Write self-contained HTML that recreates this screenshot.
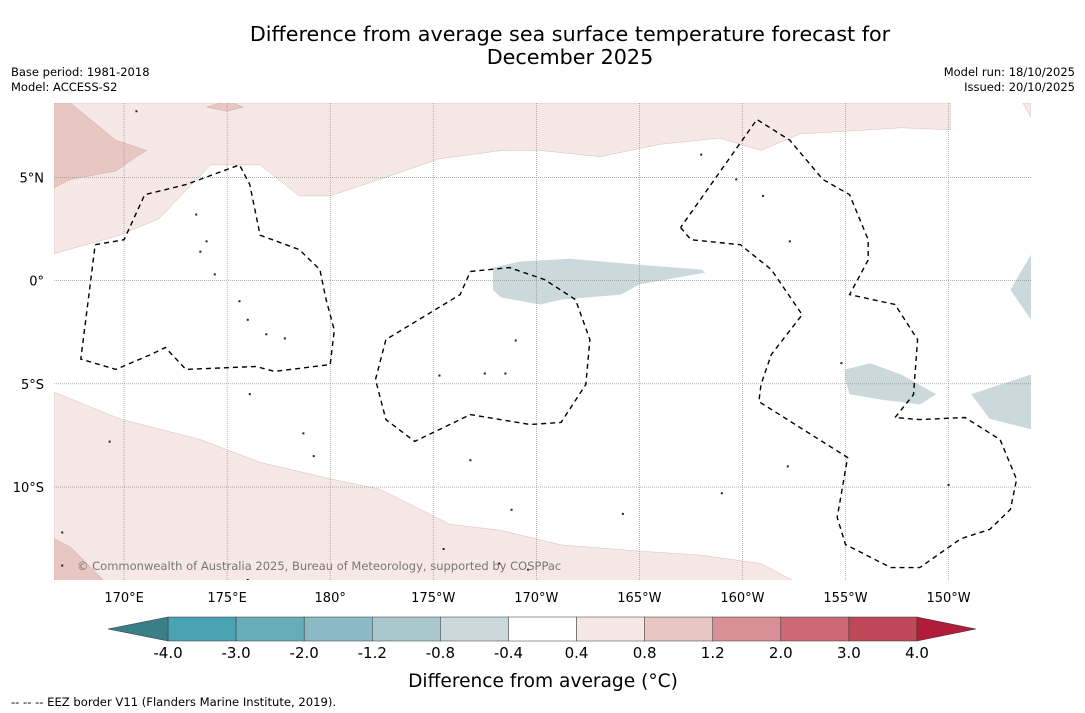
<!DOCTYPE html>
<html><head><meta charset="utf-8"><style>
html,body{margin:0;padding:0;background:#fff;}
svg{display:block;font-family:"DejaVu Sans","Liberation Sans",sans-serif;}
</style></head><body>
<svg id="chart" width="1085" height="713" viewBox="0 0 1085 713" xmlns="http://www.w3.org/2000/svg">
<text x="570" y="41" font-size="20.7" text-anchor="middle">Difference from average sea surface temperature forecast for</text>
<text x="570" y="64" font-size="20.7" text-anchor="middle">December 2025</text>
<text x="11" y="76" font-size="11.5">Base period: 1981-2018</text>
<text x="11" y="91" font-size="11.5">Model: ACCESS-S2</text>
<text x="1075" y="76" font-size="11.5" text-anchor="end">Model run: 18/10/2025</text>
<text x="1075" y="91" font-size="11.5" text-anchor="end">Issued: 20/10/2025</text>
<defs><clipPath id="mapclip"><rect x="54" y="103" width="977" height="477"/></clipPath></defs>
<g id="map" clip-path="url(#mapclip)"></g>
<g id="axes"></g>
<g id="cbar"></g>
<text x="543" y="687" font-size="18.6" text-anchor="middle">Difference from average (°C)</text>
<text x="11" y="706" font-size="11.6">--  --  -- EEZ border V11 (Flanders Marine Institute, 2019).</text>
</svg>
<script>
const NS="http://www.w3.org/2000/svg";
// axis extents
const lonMin=166.6, lonMax=214.0, latMin=-14.5, latMax=8.6;
const X0=54,X1=1031,Y0=103,Y1=580;
function xs(lon){return X0+(lon-lonMin)/(lonMax-lonMin)*(X1-X0);}
function ys(lat){return Y0+(latMax-lat)/(latMax-latMin)*(Y1-Y0);}
// tick data
const lonTicks=[170,175,180,185,190,195,200,205,210];
const lonLabels=["170°E","175°E","180°","175°W","170°W","165°W","160°W","155°W","150°W"];
const latTicks=[5,0,-5,-10];
const latLabels=["5°N","0°","5°S","10°S"];
// colorbar data
const levels=["-4.0","-3.0","-2.0","-1.2","-0.8","-0.4","0.4","0.8","1.2","2.0","3.0","4.0"];
const levelColors=["#4aa3b3","#68acba","#8bbac5","#a9c8cd","#cbd9dc","#ffffff","#f5e8e7","#e8c7c2","#d88f96","#cc6a74","#be4857"];
const lowColor="#3a7f88", highColor="#b01c3a";
// shaded regions [lon,lat]
const pinkTop=[[166.6,8.6],[166.6,1.3],[169.8,2.2],[171.7,3.0],[174.2,5.6],[176.6,5.6],[178.5,4.1],[180,4.1],[182.4,4.9],[185.3,5.9],[188.3,6.3],[190.2,6.3],[193.1,6.0],[196.0,6.6],[198.9,6.9],[200.9,6.3],[202.8,7.1],[207.7,7.4],[210.1,7.3],[210.1,8.6]];
const pinkTopRight=[[213.6,8.6],[214.0,8.6],[214.0,7.9]];
const darkTop=[[166.6,8.6],[167.4,8.6],[169.6,6.8],[171.1,6.3],[170.6,6.0],[169.6,5.3],[167.4,4.9],[166.6,4.5]];
const darkTopBlob=[[174.0,8.4],[175.0,8.7],[175.8,8.4],[175.0,8.2]];
const pinkBottom=[[166.6,-5.4],[169.8,-6.7],[173.7,-7.7],[176.6,-8.8],[180,-9.6],[182.4,-10.1],[184.4,-11.1],[185.8,-11.8],[188.3,-12.1],[191.2,-12.8],[195.0,-13.1],[198.0,-13.3],[200.9,-13.7],[202.6,-14.6],[166.6,-14.6]];
const darkBottom=[[166.6,-12.5],[167.4,-12.9],[169.1,-14.6],[166.6,-14.6]];
const blueCentral=[[187.9,0.63],[189.2,0.92],[191.6,1.06],[195.0,0.77],[198.0,0.53],[198.2,0.39],[195.0,-0.19],[194.1,-0.68],[191.2,-0.92],[190.2,-1.16],[188.3,-0.82],[187.9,-0.44]];
const blueEast=[[205.0,-4.3],[206.2,-4.0],[207.7,-4.55],[209.4,-5.5],[208.6,-6.0],[206.7,-5.76],[205.2,-5.5],[205.0,-4.8]];
const blueFarEast=[[211.1,-5.5],[214.0,-4.55],[214.0,-7.2],[212.0,-6.7]];
const blueEdge=[[214.0,1.26],[213.0,-0.44],[214.0,-1.9]];
// EEZ borders
const eezWest=[[168.6,1.74],[170.0,1.98],[171.0,4.16],[173.0,4.65],[175.6,5.6],[176.1,4.65],[176.6,2.2],[178.5,1.5],[179.5,0.53],[179.8,-0.92],[180.2,-2.4],[180.0,-4.07],[177.3,-4.4],[176.4,-4.16],[173.0,-4.3],[172.0,-3.24],[171.3,-3.58],[169.6,-4.3],[167.9,-3.8],[168.6,1.74]];
const eezPhoenix=[[186.8,0.44],[188.7,0.63],[190.4,0.05],[191.9,-0.92],[192.6,-2.86],[192.4,-5.03],[191.2,-6.87],[189.7,-6.97],[186.8,-6.49],[184.1,-7.79],[182.7,-6.73],[182.2,-4.79],[182.7,-2.86],[186.3,-0.68],[186.8,0.44]];
const eezLine=[[197.0,2.57],[197.5,1.98],[199.9,1.74],[201.4,0.53],[202.9,-1.65],[201.4,-3.58],[200.9,-5.03],[200.8,-5.86],[205.1,-8.57],[204.6,-11.47],[205.0,-12.78],[207.2,-13.9],[208.6,-13.9],[210.6,-12.5],[212.0,-12.05],[213.0,-11.08],[213.3,-9.63],[212.5,-7.7],[210.8,-6.63],[208.6,-6.73],[207.4,-6.63],[208.3,-5.52],[208.5,-2.86],[207.4,-1.16],[205.2,-0.68],[206.1,1.0],[206.1,1.98],[205.2,4.16],[203.9,4.9],[202.3,6.8],[200.7,7.8],[197.0,2.57]];
// small islands [lon,lat]
const islands=[[173.5,3.2],[174.0,1.9],[173.7,1.4],[174.4,0.3],[175.6,-1.0],[176.0,-1.9],[176.9,-2.6],[177.8,-2.8],[176.1,-5.5],[178.7,-7.4],[179.2,-8.5],[185.3,-4.6],[187.5,-4.5],[188.5,-4.5],[189.0,-2.9],[186.8,-8.7],[188.8,-11.1],[194.2,-11.3],[199.0,-10.3],[202.2,-9.0],[204.8,-4.0],[201.0,4.1],[202.3,1.9],[198.0,6.1],[199.7,4.9],[210.0,-9.9],[167.0,-12.2],[167.0,-13.8],[170.6,8.2],[169.3,-7.8],[176.0,-14.5],[185.5,-13.0],[188.2,-13.7],[189.6,-14.0]];
const map=document.getElementById('map');
function poly(pts,fill,name,stroke,dash){
  const p=document.createElementNS(NS,'polygon');
  
  
  p.setAttribute('points',pts.map(d=>xs(d[0]).toFixed(1)+','+ys(d[1]).toFixed(1)).join(' '));
  p.setAttribute('fill',fill);
  if(stroke){p.setAttribute('stroke',stroke);p.setAttribute('stroke-width',dash?1.4:0.4);if(dash)p.setAttribute('stroke-dasharray',dash);}
  map.appendChild(p);return p;
}
poly(pinkTop,"#f5e8e7","anomaly-0.4-0.8-north","#c9b2b0");
poly(pinkTopRight,"#f5e8e7","anomaly-0.4-0.8-northeast","#c9b2b0");
poly(darkTop,"#e8c7c2","anomaly-0.8-1.2-northwest","#c9a09a");
poly(darkTopBlob,"#e8c7c2","anomaly-0.8-1.2-blob","#c9a09a");
poly(pinkBottom,"#f5e8e7","anomaly-0.4-0.8-south","#c9b2b0");
poly(darkBottom,"#e8c7c2","anomaly-0.8-1.2-southwest","#c9a09a");
poly(blueCentral,"#cbd9dc","anomaly-neg-central");
poly(blueEast,"#cbd9dc","anomaly-neg-east");
poly(blueFarEast,"#cbd9dc","anomaly-neg-far-east");
poly(blueEdge,"#cbd9dc","anomaly-neg-edge");
// gridlines
lonTicks.forEach((t,i)=>{const l=document.createElementNS(NS,'line');
  
  
  l.setAttribute('x1',xs(t));l.setAttribute('x2',xs(t));l.setAttribute('y1',Y0);l.setAttribute('y2',Y1);
  l.setAttribute('stroke','#888');l.setAttribute('stroke-width','0.6');l.setAttribute('stroke-dasharray','1,1');map.appendChild(l);});
latTicks.forEach((t,i)=>{const l=document.createElementNS(NS,'line');
  
  
  l.setAttribute('y1',ys(t));l.setAttribute('y2',ys(t));l.setAttribute('x1',X0);l.setAttribute('x2',X1);
  l.setAttribute('stroke','#888');l.setAttribute('stroke-width','0.6');l.setAttribute('stroke-dasharray','1,1');map.appendChild(l);});
function line(pts,name){const p=document.createElementNS(NS,'polyline');
  
  
  p.setAttribute('points',pts.map(d=>xs(d[0]).toFixed(1)+','+ys(d[1]).toFixed(1)).join(' '));
  p.setAttribute('fill','none');p.setAttribute('stroke','#000');p.setAttribute('stroke-width','1.4');p.setAttribute('stroke-dasharray','5,4');map.appendChild(p);}
line(eezWest,"eez-border-west");line(eezPhoenix,"eez-border-phoenix");line(eezLine,"eez-border-line-islands");
islands.forEach((d,i)=>{const r=document.createElementNS(NS,'rect');
  
  
  r.setAttribute('x',xs(d[0])-1);r.setAttribute('y',ys(d[1])-1);r.setAttribute('width',2);r.setAttribute('height',2);r.setAttribute('fill','#222');map.appendChild(r);});
const cp=document.createElementNS(NS,'text');


cp.setAttribute('x',77);cp.setAttribute('y',570);cp.setAttribute('font-size','11.5');cp.setAttribute('fill','#777');
cp.textContent="© Commonwealth of Australia 2025, Bureau of Meteorology, supported by COSPPac";map.appendChild(cp);
// axis labels
const axes=document.getElementById('axes');
lonTicks.forEach((t,i)=>{const e=document.createElementNS(NS,'text');
  
  
  e.setAttribute('x',xs(t));e.setAttribute('y',602);e.setAttribute('font-size','13');e.setAttribute('text-anchor','middle');e.textContent=lonLabels[i];axes.appendChild(e);});
latTicks.forEach((t,i)=>{const e=document.createElementNS(NS,'text');
  
  
  e.setAttribute('x',44);e.setAttribute('y',ys(t)+5);e.setAttribute('font-size','13');e.setAttribute('text-anchor','end');e.textContent=latLabels[i];axes.appendChild(e);});
// colorbar
const cb=document.getElementById('cbar');
const cbX0=168,cbX1=917,cbY=617,cbH=24,n=levelColors.length,w=(cbX1-cbX0)/n;
levelColors.forEach((c,i)=>{const r=document.createElementNS(NS,'rect');
  
  
  r.setAttribute('x',cbX0+i*w);r.setAttribute('y',cbY);r.setAttribute('width',w);r.setAttribute('height',cbH);r.setAttribute('fill',c);r.setAttribute('stroke','#333');r.setAttribute('stroke-width','0.5');cb.appendChild(r);});
const lt=document.createElementNS(NS,'polygon');


lt.setAttribute('points',`${cbX0},${cbY} 108,${cbY+cbH/2} ${cbX0},${cbY+cbH}`);lt.setAttribute('fill',lowColor);lt.setAttribute('stroke','#333');lt.setAttribute('stroke-width','0.5');cb.appendChild(lt);
const ht=document.createElementNS(NS,'polygon');


ht.setAttribute('points',`${cbX1},${cbY} 976,${cbY+cbH/2} ${cbX1},${cbY+cbH}`);ht.setAttribute('fill',highColor);ht.setAttribute('stroke','#333');ht.setAttribute('stroke-width','0.5');cb.appendChild(ht);
levels.forEach((l,i)=>{const e=document.createElementNS(NS,'text');
  
  
  e.setAttribute('x',cbX0+i*w);e.setAttribute('y',658);e.setAttribute('font-size','15');e.setAttribute('text-anchor','middle');e.textContent=l;cb.appendChild(e);});
</script>
</body></html>
